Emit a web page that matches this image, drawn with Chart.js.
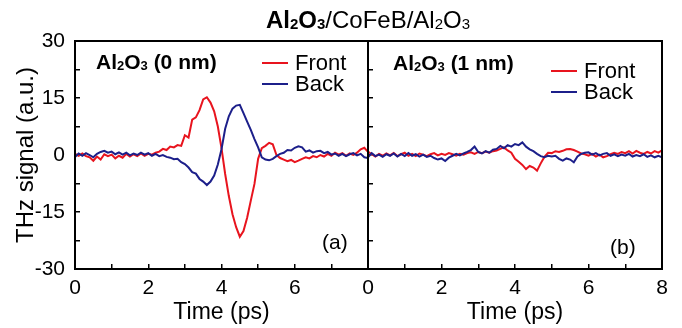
<!DOCTYPE html>
<html>
<head>
<meta charset="utf-8">
<script src="https://cdn.jsdelivr.net/npm/chart.js@4.4.1/dist/chart.umd.min.js"></script>
<style>
  html, body { margin: 0; padding: 0; background: #fff; }
  #wrap { position: relative; width: 682px; height: 328px; }
  #wrap canvas { position: absolute; left: 0; top: 0; }
</style>
</head>
<body>
<div id="wrap">
  <canvas id="chart-a" width="682" height="328"></canvas>
  <canvas id="chart-b" width="682" height="328"></canvas>
</div>
<script>
// time axis (ps), sampled every 0.1 ps
const timePs = [
  0, 0.1, 0.2, 0.3, 0.4, 0.5, 0.6, 0.7, 0.8, 0.9,
  1, 1.1, 1.2, 1.3, 1.4, 1.5, 1.6, 1.7, 1.8, 1.9,
  2, 2.1, 2.2, 2.3, 2.4, 2.5, 2.6, 2.7, 2.8, 2.9,
  3, 3.1, 3.2, 3.3, 3.4, 3.5, 3.6, 3.7, 3.8, 3.9,
  4, 4.1, 4.2, 4.3, 4.4, 4.5, 4.6, 4.7, 4.8, 4.9,
  5, 5.1, 5.2, 5.3, 5.4, 5.5, 5.6, 5.7, 5.8, 5.9,
  6, 6.1, 6.2, 6.3, 6.4, 6.5, 6.6, 6.7, 6.8, 6.9,
  7, 7.1, 7.2, 7.3, 7.4, 7.5, 7.6, 7.7, 7.8, 7.9,
  8
];

// (a) Al2O3 0 nm
const frontA = [
  0.3, -0.2, 0.4, -0.3, -0.6, -1.5, -0.4, -1.2, 0.2, -0.3,
  0.1, -0.9, -0.2, -0.7, 0.3, -0.4, 0.2, -0.3, 0.4, -0.2,
  0.3, 0.1, 0.6, 0.9, 1.6, 1.3, 2.2, 2.0, 2.6, 2.4,
  5.2, 4.6, 9.3, 9.9, 11.8, 14.6, 15.2, 13.8, 11.5, 7.5,
  1.8, -5.0, -10.8, -15.6, -19.0, -21.5, -20.0, -16.5, -12.0, -7.6,
  -1.0, 1.8, 2.4, 3.2, 2.8, 0.0, -0.8, -1.2, -1.6, -1.3,
  -1.9, -1.5, -1.0, -0.6, -0.9, -0.3, -0.6, 0.0, -0.4, 0.3,
  -0.2, 0.6, 0.1, 0.5, -0.2, 0.4, 0.0, 0.6, 1.5, 1.9,
  0.8
];
const backA = [
  -0.5, 0.4, -0.2, 0.5, 0.0, -0.6, 0.3, 0.8, 1.1, 0.6,
  0.9, 0.2, 0.7, 0.1, 0.6, -0.1, 0.4, 0.0, 0.6, 0.1,
  0.5, -0.2, 0.3, -0.3, 0.0, -0.5, -0.7, -1.1, -1.0, -1.9,
  -2.4, -3.3, -4.5, -4.9, -6.3, -7.0, -7.9, -7.0, -5.4, -2.5,
  1.5, 6.9, 10.2, 12.2, 13.0, 13.2, 11.0, 8.8, 6.6, 4.2,
  2.0, -0.6, -1.2, -1.4, -1.0, -0.3, 0.3, 0.6, 1.3, 1.2,
  1.9, 2.3, 2.0, 0.9, 1.2, 0.6, 1.0, 1.1, 0.5, 0.8,
  0.1, 0.4, -0.2, 0.3, -0.3, 0.2, 0.5, -0.1, 0.3, -0.6,
  -0.8
];

// (b) Al2O3 1 nm
const frontB = [
  0.9, 0.2, -0.4, 0.3, -0.2, 0.4, -0.1, 0.5, -0.3, 0.2,
  0.6, -0.2, 0.3, -0.3, 0.4, 0.1, -0.3, 0.2, 0.5, -0.1,
  0.3, 0.0, 0.5, 0.2, -0.2, 0.3, 0.1, 0.5, 0.7, 0.3,
  0.8, 0.5, 0.9, 0.6, 1.0, 1.2, 1.6, 2.0, 1.2, 0.6,
  -1.0, -1.8, -2.6, -3.7, -2.9, -3.3, -4.1, -2.2, -0.5, 0.6,
  0.5, 1.0, 0.8, 1.1, 1.5, 1.6, 1.3, 0.9, 0.4, 0.2,
  -0.2, 0.3, -0.4, 0.1, -0.6, -0.3, 0.2, 0.6, 0.3, 0.8,
  0.5, 1.0, 0.4, 1.1, 0.6, 0.3, 0.8, 0.4, 1.0, 0.6,
  1.2
];
const backB = [
  -0.6, 0.5, -0.3, 0.1, -0.5, 0.2, -0.2, 0.4, -0.4, 0.3,
  -0.3, 0.5, -0.2, 0.2, -0.4, 0.1, -0.5, -0.2, -0.8, -1.2,
  -0.9, -1.6, -0.7, -0.2, 0.3, -0.1, 0.4, 0.8, 1.3, 2.2,
  0.8, 0.4, 1.0, 0.6, 1.4, 1.6, 2.4, 1.8, 2.6, 2.2,
  2.9, 2.6, 3.3, 2.2, 1.5, 1.0, 0.3, -0.3, -0.6, -0.2,
  -0.4, -0.2, -1.0, -1.5, -0.9, -1.2, -1.9, -0.4, 0.3, 0.6,
  0.7, 0.1, 0.5, -0.1, 0.3, 0.5, -0.2, 0.2, -0.3, 0.1,
  -0.2, 0.3, -0.4, 0.0, -0.3, 0.2, -0.5, -0.1, -0.6, -0.2,
  -0.6
];

const seriesNames = ["Front", "Back"];
const yTickLabels = [-30, -15, 0, 15, 30];
const xLabelsA = [0, 2, 4, 6];
const xLabelsB = [0, 2, 4, 6, 8];
const xTitle = "Time (ps)";
const yTitle = "THz signal (a.u.)";
// rich text pieces: [text, bold, subscript]
const titleParts = [["Al", 1, 0], ["2", 1, 1], ["O", 1, 0], ["3", 1, 1], ["/CoFeB/Al", 0, 0], ["2", 0, 1], ["O", 0, 0], ["3", 0, 1]];
const tagA = [["Al", 1, 0], ["2", 1, 1], ["O", 1, 0], ["3", 1, 1], [" (0 nm)", 1, 0]];
const tagB = [["Al", 1, 0], ["2", 1, 1], ["O", 1, 0], ["3", 1, 1], [" (1 nm)", 1, 0]];

const RED = "#e8141e";
const BLUE = "#1c1f8a";
const FONT = '"Liberation Sans", Arial, sans-serif';

function toPoints(ys) {
  return ys.map((v, i) => ({ x: timePs[i], y: v }));
}

function drawRich(ctx, parts, x, y, size, center) {
  const fontFor = p => (p[1] ? "bold " : "") + (p[2] ? Math.round(size * 0.62) : size) + "px " + FONT;
  let total = 0;
  parts.forEach(p => { ctx.font = fontFor(p); total += ctx.measureText(p[0]).width; });
  let cx = center ? x - total / 2 : x;
  ctx.textAlign = "left";
  ctx.textBaseline = "alphabetic";
  parts.forEach(p => {
    ctx.font = fontFor(p);
    ctx.fillText(p[0], cx, p[2] ? y + size * 0.06 : y);
    cx += ctx.measureText(p[0]).width;
  });
}

// frame + labels + hand placed legend for one panel
const panelDeco = {
  id: "panelDeco",
  afterDatasetsDraw(chart, args, opts) {
    const { ctx, chartArea: a } = chart;
    ctx.save();
    ctx.strokeStyle = "#000";
    ctx.lineWidth = 2;
    ctx.strokeRect(a.left, a.top, a.right - a.left, a.bottom - a.top);
    ctx.fillStyle = "#000";
    if (opts.title) drawRich(ctx, titleParts, 368, 28, 24, true);
    drawRich(ctx, opts.tag, opts.tagX, opts.tagY, 21, false);
    ctx.font = "21px " + FONT;
    ctx.fillText(opts.letter, opts.letterX, opts.letterY);
    const lg = opts.legend;
    chart.data.datasets.forEach((ds, i) => {
      const ly = lg.y + i * lg.gap;
      ctx.strokeStyle = ds.borderColor;
      ctx.lineWidth = 2;
      ctx.beginPath();
      ctx.moveTo(lg.x, ly);
      ctx.lineTo(lg.x + 26, ly);
      ctx.stroke();
      ctx.fillStyle = "#000";
      ctx.font = "22px " + FONT;
      ctx.textBaseline = "middle";
      ctx.fillText(ds.label, lg.x + 33, ly + 1);
    });
    ctx.restore();
  }
};

function makePanel(canvasId, front, back, cfg) {
  const tickStyle = { color: "#000", lineWidth: 1.5, drawOnChartArea: false, drawTicks: true, tickLength: -5 };
  return new Chart(document.getElementById(canvasId).getContext("2d"), {
    type: "line",
    data: {
      datasets: [
        { label: seriesNames[0], data: toPoints(front), borderColor: RED, borderWidth: 2, pointRadius: 0, tension: 0, order: 1 },
        { label: seriesNames[1], data: toPoints(back), borderColor: BLUE, borderWidth: 2, pointRadius: 0, tension: 0, order: 0 }
      ]
    },
    options: {
      responsive: false,
      animation: false,
      layout: { padding: cfg.padding },
      plugins: {
        legend: { display: false },
        tooltip: { enabled: false },
        panelDeco: cfg.deco
      },
      scales: {
        x: {
          type: "linear",
          min: 0, max: 8,
          border: { display: false },
          grid: tickStyle,
          ticks: {
            stepSize: 1, autoSkip: false, maxRotation: 0, padding: 12, color: "#000",
            font: { family: FONT, size: 21 },
            callback: v => (cfg.xLabels.includes(v) ? String(v) : "")
          },
          title: { display: true, text: xTitle, color: "#000", font: { family: FONT, size: 23 }, padding: { top: 0, bottom: 2 } },
          afterFit: s => { s.height = 59; }
        },
        y: {
          min: -30, max: 30,
          border: { display: false },
          grid: tickStyle,
          ticks: {
            stepSize: 7.5, autoSkip: false, padding: 15, color: "#000",
            font: { family: FONT, size: 21 },
            callback: v => (cfg.yLabels && yTickLabels.includes(v) ? String(v) : "")
          },
          title: { display: cfg.yLabels, text: yTitle, color: "#000", font: { family: FONT, size: 24 }, padding: { top: 12, bottom: 0 } },
          afterFit: s => { s.width = cfg.yWidth; }
        }
      }
    },
    plugins: [panelDeco]
  });
}

makePanel("chart-a", frontA, backA, {
  padding: { left: 0, right: 314, top: 41, bottom: 0 },
  yWidth: 75, yLabels: true, xLabels: xLabelsA,
  deco: { title: true, tag: tagA, tagX: 96, tagY: 69, letter: "(a)", letterX: 322, letterY: 249,
          legend: { x: 262, y: 63, gap: 21 } }
});
makePanel("chart-b", frontB, backB, {
  padding: { left: 368, right: 20, top: 41, bottom: 0 },
  yWidth: 0, yLabels: false, xLabels: xLabelsB,
  deco: { title: false, tag: tagB, tagX: 393, tagY: 70, letter: "(b)", letterX: 610, letterY: 254,
          legend: { x: 551, y: 71, gap: 21 } }
});
</script>
</body>
</html>
